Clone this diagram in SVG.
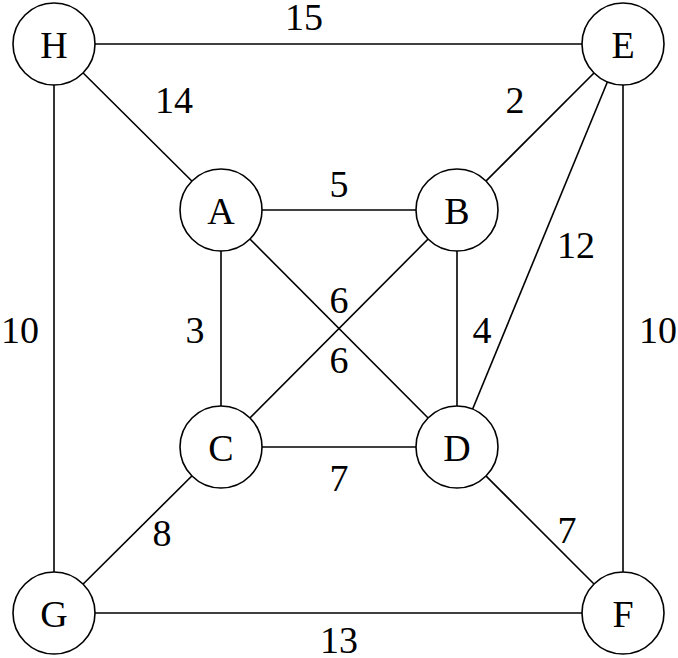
<svg xmlns="http://www.w3.org/2000/svg" width="678" height="658" viewBox="0 0 678 658">
<style>
.e{stroke:#000;stroke-width:1.6;fill:none}
.n{fill:#fff;stroke:#000;stroke-width:1.6}
text{font-family:"Liberation Serif","DejaVu Serif",serif;font-size:38px;text-anchor:middle;fill:#000}
</style>
<rect width="678" height="658" fill="#fff"/>
<g id="connectors" class="e">
<line x1="54" y1="44" x2="623" y2="44"/>
<line x1="54" y1="44" x2="221" y2="210"/>
<line x1="54" y1="44" x2="54" y2="613"/>
<line x1="623" y1="44" x2="457" y2="210"/>
<line x1="623" y1="44" x2="457" y2="447"/>
<line x1="623" y1="44" x2="623" y2="613"/>
<line x1="221" y1="210" x2="457" y2="210"/>
<line x1="221" y1="210" x2="221" y2="447"/>
<line x1="221" y1="210" x2="457" y2="447"/>
<line x1="457" y1="210" x2="221" y2="447"/>
<line x1="457" y1="210" x2="457" y2="447"/>
<line x1="221" y1="447" x2="457" y2="447"/>
<line x1="221" y1="447" x2="54" y2="613"/>
<line x1="457" y1="447" x2="623" y2="613"/>
<line x1="54" y1="613" x2="623" y2="613"/>
</g>
<g id="labels">
<text x="304" y="30">15</text>
<text x="174" y="113">14</text>
<text x="515" y="113">2</text>
<text x="339" y="197">5</text>
<text x="576" y="258">12</text>
<text x="20" y="343">10</text>
<text x="195" y="343">3</text>
<text x="339" y="313">6</text>
<text x="339" y="373">6</text>
<text x="482" y="343">4</text>
<text x="658" y="343">10</text>
<text x="339" y="491">7</text>
<text x="567" y="543">7</text>
<text x="162" y="546">8</text>
<text x="339" y="653">13</text>
</g>
<g id="node-H"><circle class="n" cx="54" cy="44" r="41"/><text x="54" y="58">H</text></g>
<g id="node-E"><circle class="n" cx="623" cy="44" r="41"/><text x="623" y="58">E</text></g>
<g id="node-A"><circle class="n" cx="221" cy="210" r="41"/><text x="221" y="224">A</text></g>
<g id="node-B"><circle class="n" cx="457" cy="210" r="41"/><text x="457" y="224">B</text></g>
<g id="node-C"><circle class="n" cx="221" cy="447" r="41"/><text x="221" y="461">C</text></g>
<g id="node-D"><circle class="n" cx="457" cy="447" r="41"/><text x="457" y="461">D</text></g>
<g id="node-G"><circle class="n" cx="54" cy="613" r="41"/><text x="54" y="627">G</text></g>
<g id="node-F"><circle class="n" cx="623" cy="613" r="41"/><text x="623" y="627">F</text></g>
</svg>
